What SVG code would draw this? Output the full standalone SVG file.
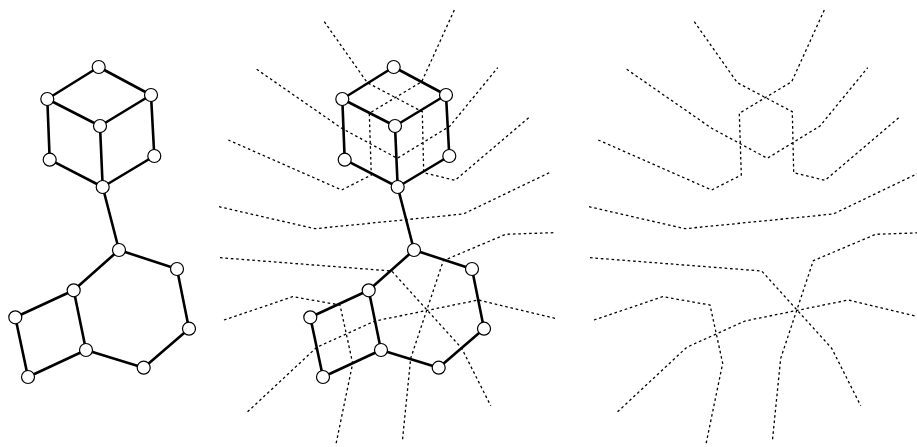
<svg xmlns="http://www.w3.org/2000/svg" width="917" height="447" viewBox="0 0 917 447">
<style>
.e{fill:none;stroke:#000;stroke-width:2.6;stroke-linecap:round;stroke-linejoin:round}
.d{fill:none;stroke:#000;stroke-width:1.3;stroke-dasharray:2.6 2.8}
.n{fill:#fff;stroke:#000;stroke-width:1.2}
</style>
<rect width="917" height="447" fill="#fff"/>
<defs>
<g id="dual-lines">
<polyline class="d" points="324.3,21.7 367.3,82.7 422.3,111.7 423.7,172.7 455,180.3 529.3,117.3"/>
<polyline class="d" points="454.3,10 421.7,81.7 369.3,113.3 371.3,175 341.7,190 228.3,140"/>
<polyline class="d" points="256.7,69.3 341.7,128.3 397.3,158.3 450,126 497.7,67.7"/>
<polyline class="d" points="219,206.7 315,228.7 463.3,214 549.3,172.7"/>
<polyline class="d" points="220,257.7 391.7,271 461.7,348.3 490.7,405.7"/>
<polyline class="d" points="553.3,232.7 505.7,234.3 443.3,260.7 410.7,358.3 402.3,441.7"/>
<polyline class="d" points="224,320 292.7,296.7 340,305 352.7,363.3 336,444"/>
<polyline class="d" points="555,318.3 478.3,300 375,321 316.7,347.3 246,413.3"/>
</g>
<g id="edges">
<path class="e" d="M98.7,67L47.3,99L100,126L151,95ZM47.3,99L49.7,159.7L102.7,187L154.3,156L151,95M100,126L102.7,187L119,250L177,269L189,328.7L143.7,367.7L86,350L73.7,290.3L119,250M73.7,290.3L15.3,317.3L28,377L86,350"/>
</g>
</defs>
<g id="connectors">
<use href="#edges"/>
<use href="#dual-lines"/>
<use href="#edges" x="295"/>
<use href="#dual-lines" x="370"/>
</g>
<g id="left-graph-nodes">
<g id="a1"><circle class="n" cx="98.7" cy="67" r="6.5"/></g>
<g id="a2"><circle class="n" cx="47.3" cy="99" r="6.5"/></g>
<g id="a3"><circle class="n" cx="151" cy="95" r="6.5"/></g>
<g id="a4"><circle class="n" cx="100" cy="126" r="6.5"/></g>
<g id="a5"><circle class="n" cx="49.7" cy="159.7" r="6.5"/></g>
<g id="a6"><circle class="n" cx="154.3" cy="156" r="6.5"/></g>
<g id="a7"><circle class="n" cx="102.7" cy="187" r="6.5"/></g>
<g id="a8"><circle class="n" cx="119" cy="250" r="6.5"/></g>
<g id="a9"><circle class="n" cx="177" cy="269" r="6.5"/></g>
<g id="a10"><circle class="n" cx="189" cy="328.7" r="6.5"/></g>
<g id="a11"><circle class="n" cx="143.7" cy="367.7" r="6.5"/></g>
<g id="a12"><circle class="n" cx="86" cy="350" r="6.5"/></g>
<g id="a13"><circle class="n" cx="73.7" cy="290.3" r="6.5"/></g>
<g id="a14"><circle class="n" cx="15.3" cy="317.3" r="6.5"/></g>
<g id="a15"><circle class="n" cx="28" cy="377" r="6.5"/></g>
</g>
<g id="middle-graph-nodes">
<g id="b1"><circle class="n" cx="393.7" cy="67" r="6.5"/></g>
<g id="b2"><circle class="n" cx="342.3" cy="99" r="6.5"/></g>
<g id="b3"><circle class="n" cx="446" cy="95" r="6.5"/></g>
<g id="b4"><circle class="n" cx="395" cy="126" r="6.5"/></g>
<g id="b5"><circle class="n" cx="344.7" cy="159.7" r="6.5"/></g>
<g id="b6"><circle class="n" cx="449.3" cy="156" r="6.5"/></g>
<g id="b7"><circle class="n" cx="397.7" cy="187" r="6.5"/></g>
<g id="b8"><circle class="n" cx="414" cy="250" r="6.5"/></g>
<g id="b9"><circle class="n" cx="472" cy="269" r="6.5"/></g>
<g id="b10"><circle class="n" cx="484" cy="328.7" r="6.5"/></g>
<g id="b11"><circle class="n" cx="438.7" cy="367.7" r="6.5"/></g>
<g id="b12"><circle class="n" cx="381" cy="350" r="6.5"/></g>
<g id="b13"><circle class="n" cx="368.7" cy="290.3" r="6.5"/></g>
<g id="b14"><circle class="n" cx="310.3" cy="317.3" r="6.5"/></g>
<g id="b15"><circle class="n" cx="323" cy="377" r="6.5"/></g>
</g>
</svg>
